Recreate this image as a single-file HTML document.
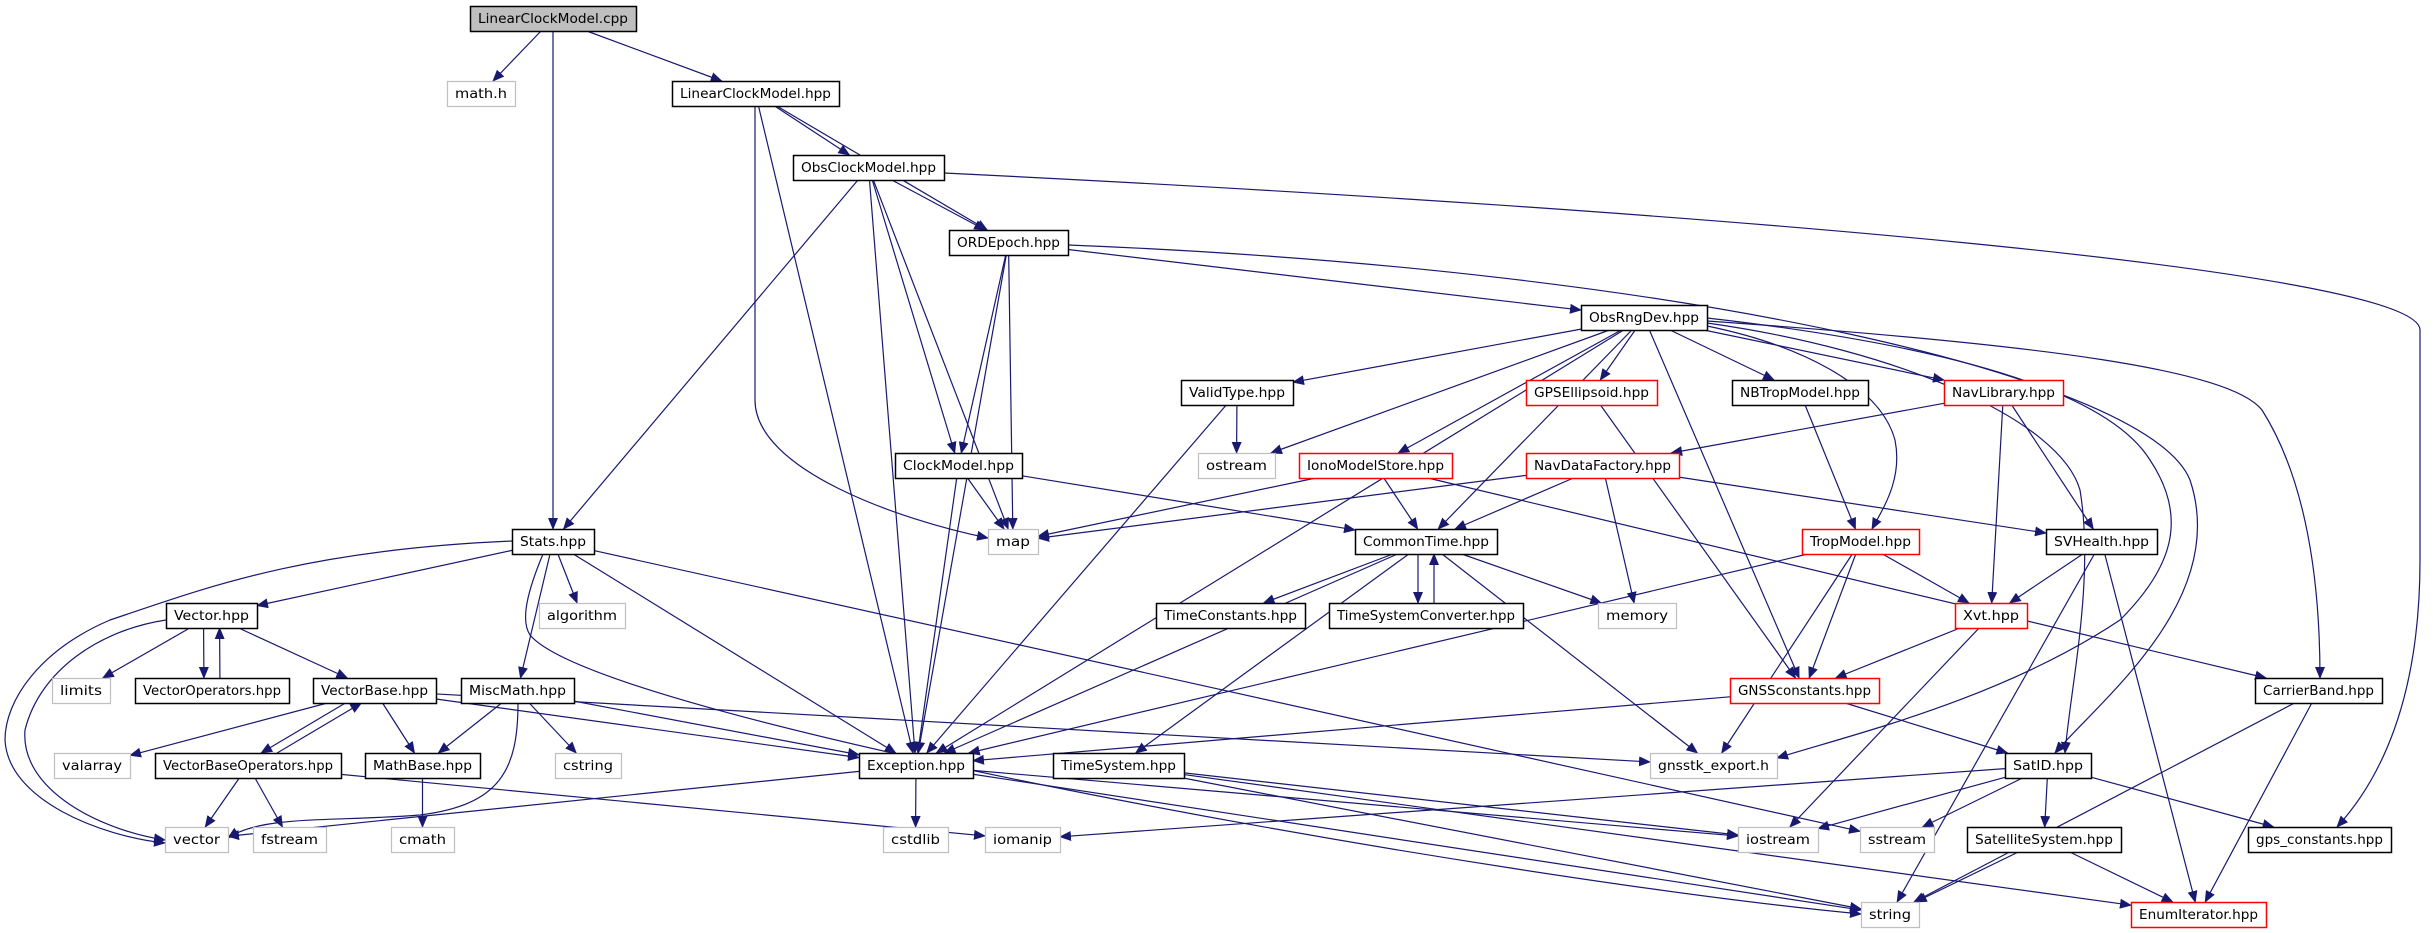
<!DOCTYPE html>
<html><head><meta charset="utf-8">
<style>
html,body{margin:0;padding:0;background:#fff;}
svg{display:block;}
text{font-family:"DejaVu Sans","Liberation Sans",sans-serif;font-size:13px;fill:#000;}
</style></head>
<body>
<svg id="g" width="2433" height="933" xmlns="http://www.w3.org/2000/svg">
<defs>
<marker id="a" markerWidth="12" markerHeight="10" refX="11" refY="5" orient="auto" markerUnits="userSpaceOnUse">
<path d="M0,0 L12,5 L0,10 z" fill="#191970"/>
</marker>
</defs>
<g id="edges" fill="none" stroke="#191970" stroke-width="1.2"></g>
<g id="nodes"></g>
</svg>
<script>
var N={
cpp:[470,6,636,31,"LinearClockModel.cpp","root"],
mathh:[447,81,515,106,"math.h","g"],
lcmh:[672,81,839,106,"LinearClockModel.hpp","b"],
ocm:[793,155,944,180,"ObsClockModel.hpp","b"],
ord:[949,230,1068,255,"ORDEpoch.hpp","b"],
ord2:[1581,305,1707,330,"ObsRngDev.hpp","b"],
valid:[1181,380,1293,405,"ValidType.hpp","b"],
gpse:[1526,380,1657,405,"GPSEllipsoid.hpp","r"],
nbt:[1732,380,1868,405,"NBTropModel.hpp","b"],
navlib:[1944,380,2063,405,"NavLibrary.hpp","r"],
clock:[895,453,1022,478,"ClockModel.hpp","b"],
ostream:[1198,453,1275,478,"ostream","g"],
iono:[1299,453,1452,478,"IonoModelStore.hpp","r"],
ndf:[1526,453,1679,478,"NavDataFactory.hpp","r"],
stats:[512,529,594,554,"Stats.hpp","b"],
map:[988,529,1038,554,"map","g"],
ct:[1355,529,1497,554,"CommonTime.hpp","b"],
trop:[1802,529,1919,554,"TropModel.hpp","r"],
svh:[2046,529,2157,554,"SVHealth.hpp","b"],
vec:[166,603,257,628,"Vector.hpp","b"],
alg:[539,603,625,628,"algorithm","g"],
tc:[1156,603,1305,628,"TimeConstants.hpp","b"],
tsc:[1329,603,1523,628,"TimeSystemConverter.hpp","b"],
memory:[1598,603,1676,628,"memory","g"],
xvt:[1955,603,2027,628,"Xvt.hpp","r"],
limits:[52,678,110,703,"limits","g"],
vops:[135,678,289,703,"VectorOperators.hpp","b"],
vb:[313,678,436,703,"VectorBase.hpp","b"],
misc:[461,678,574,703,"MiscMath.hpp","b"],
gnssc:[1730,678,1879,703,"GNSSconstants.hpp","r"],
carrier:[2255,678,2382,703,"CarrierBand.hpp","b"],
valarray:[54,753,130,778,"valarray","g"],
vbo:[155,753,341,778,"VectorBaseOperators.hpp","b"],
mb:[365,753,480,778,"MathBase.hpp","b"],
cstring:[555,753,621,778,"cstring","g"],
exc:[859,753,973,778,"Exception.hpp","b"],
ts:[1053,753,1184,778,"TimeSystem.hpp","b"],
gex:[1650,753,1777,778,"gnsstk_export.h","g"],
satid:[2005,753,2091,778,"SatID.hpp","b"],
vector:[165,827,228,852,"vector","g"],
fstream:[253,827,326,852,"fstream","g"],
cmath:[391,827,454,852,"cmath","g"],
cstdlib:[883,827,948,852,"cstdlib","g"],
iomanip:[985,827,1060,852,"iomanip","g"],
iostream:[1738,827,1818,852,"iostream","g"],
sstream:[1860,827,1934,852,"sstream","g"],
satsys:[1967,827,2121,852,"SatelliteSystem.hpp","b"],
gpsc:[2248,827,2391,852,"gps_constants.hpp","b"],
string:[1861,902,1919,927,"string","g"],
enumit:[2131,902,2266,927,"EnumIterator.hpp","r"]
};
var E=[
["cpp","mathh"],["cpp","lcmh"],["cpp","stats"],
["lcmh","ocm"],["lcmh","ord"],["lcmh","exc"],
["ocm","ord"],["ocm","stats"],["ocm","exc"],["ocm","map"],["ocm","clock"],
["ord","ord2"],["ord","clock"],["ord","exc"],["ord","map"],
["ord2","valid"],["ord2","ostream"],["ord2","iono"],["ord2","ct"],["ord2","gpse"],["ord2","nbt"],["ord2","navlib"],["ord2","gnssc"],["ord2","exc"],
["valid","ostream"],["valid","exc"],
["clock","map"],["clock","ct"],["clock","exc"],
["iono","map"],["iono","ct"],["iono","carrier"],
["gpse","gnssc"],["nbt","trop"],
["navlib","ndf"],["navlib","xvt"],["navlib","svh"],
["ndf","map"],["ndf","ct"],["ndf","memory"],["ndf","svh"],
["ct","tc"],["ct","tsc"],["ct","ts"],["ct","exc"],["ct","memory"],["ct","gex"],
["tsc","ct"],
["trop","exc"],["trop","gnssc"],["trop","xvt"],["trop","gex"],
["svh","xvt"],["svh","string"],["svh","enumit"],
["xvt","gnssc"],["xvt","iostream"],
["gnssc","exc"],["gnssc","satid"],
["carrier","string"],["carrier","enumit"],
["satid","iomanip"],["satid","iostream"],["satid","sstream"],["satid","satsys"],["satid","gpsc"],
["satsys","string"],["satsys","enumit"],
["ts","iostream"],["ts","string"],["ts","enumit"],
["exc","cstdlib"],["exc","vector"],["exc","iostream"],["exc","string"],
["stats","vec"],["stats","alg"],["stats","misc"],["stats","exc"],["stats","sstream"],
["vec","limits"],["vec","vops"],["vec","vb"],
["vops","vec"],
["vb","valarray"],["vb","vbo"],["vb","mb"],["vb","exc"],["vb","gex"],
["vbo","vb"],["vbo","vector"],["vbo","fstream"],["vbo","iomanip"],
["misc","mb"],["misc","cstring"],["misc","exc"],
["mb","cmath"]
];
var CUSTOM=[
"M944,173 C1700,210 2420,270 2420,330 L2420,560 C2420,700 2380,780 2337,827",
"M1068,245 C1700,270 2150,380 2190,480 C2230,600 2100,700 2055,753",
"M1707,321 C2050,345 2230,370 2262,410 C2300,470 2320,560 2320,678",
"M1707,323 C1900,350 2060,420 2080,490 C2095,580 2070,690 2065,753",
"M1707,318 C1900,340 2100,380 2150,460 C2190,520 2170,570 2120,620 C2000,700 1850,735 1777,758",
"M1707,326 C1800,345 1880,385 1895,440 C1903,480 1882,510 1872,529",
"M512,541 C300,550 200,590 110,620 C40,650 5,700 5,740 C8,800 100,836 165,843",
"M166,620 C100,630 40,670 25,730 C20,790 100,830 165,840",
"M543,554 C528,590 520,620 530,635 C600,720 1500,880 1861,914",
"M518,703 C518,770 500,805 420,815 C330,822 262,815 228,838",
"M755,106 L755,400 C755,470 900,520 988,538"
];
var ns="http://www.w3.org/2000/svg";
var eg=document.getElementById("edges"),ng=document.getElementById("nodes");
function clip(b,cx,cy,dx,dy){
 var hw=(b[2]-b[0])/2,hh=(b[3]-b[1])/2,t=1e9;
 if(dx!=0)t=Math.min(t,hw/Math.abs(dx));
 if(dy!=0)t=Math.min(t,hh/Math.abs(dy));
 return [cx+dx*t,cy+dy*t];
}
function pair(a,b){
 var A=N[a],B=N[b];
 var ax=(A[0]+A[2])/2,ay=(A[1]+A[3])/2,bx=(B[0]+B[2])/2,by=(B[1]+B[3])/2;
 var off=0;
 if((a=="vec"&&b=="vops")||(a=="ct"&&b=="tsc")||(a=="vb"&&b=="vbo"))off=-8;
 if((a=="vops"&&b=="vec")||(a=="tsc"&&b=="ct")||(a=="vbo"&&b=="vb"))off=8;
 ax+=off;bx+=off;
 var dx=bx-ax,dy=by-ay;
 var p=clip(A,ax,ay,dx,dy),q=clip(B,bx,by,-dx,-dy);
 return [p,q];
}
function addPath(d){
 var p=document.createElementNS(ns,"path");
 p.setAttribute("d",d);p.setAttribute("marker-end","url(#a)");
 eg.appendChild(p);
}
E.forEach(function(e){
 var pq=pair(e[0],e[1]);
 addPath("M"+pq[0][0]+","+pq[0][1]+" L"+pq[1][0]+","+pq[1][1]);
});
CUSTOM.forEach(addPath);
for(var k in N){
 var n=N[k];
 var r=document.createElementNS(ns,"rect");
 r.setAttribute("x",n[0]+0.5);r.setAttribute("y",n[1]+0.5);
 r.setAttribute("width",n[2]-n[0]);r.setAttribute("height",n[3]-n[1]);
 var st=n[5];
 r.setAttribute("fill",st=="root"?"#bfbfbf":"#fff");
 r.setAttribute("stroke",st=="g"?"#bfbfbf":(st=="r"?"#ff0000":"#000"));
 r.setAttribute("stroke-width",st=="g"?"1.2":"1.5");
 ng.appendChild(r);
 var t=document.createElementNS(ns,"text");
 t.setAttribute("x",(n[0]+n[2])/2);t.setAttribute("y",n[3]-8);
 t.setAttribute("text-anchor","middle");
 var w=n[2]-n[0]-16;
 t.setAttribute("textLength",w);t.setAttribute("lengthAdjust","spacingAndGlyphs");
 t.textContent=n[4];
 ng.appendChild(t);
}
</script>
</body></html>
